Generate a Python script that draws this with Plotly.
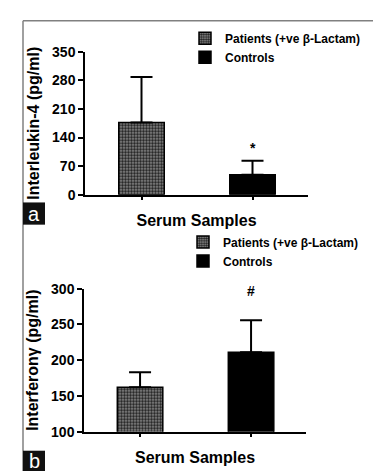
import plotly.graph_objects as go

# ---------------- data ----------------
groups = ["Patients (+ve β-Lactam)", "Controls"]
il4_mean = [177, 49]
il4_sd = [111, 34]
ifn_mean = [162, 211]
ifn_sd = [21, 45]
il4_ticks = [0, 70, 140, 210, 280, 350]
ifn_ticks = [100, 150, 200, 250, 300]
il4_marks = ["", "*"]
ifn_marks = ["", "#"]
panel_labels = ["a", "b"]
x_title = "Serum Samples"
il4_title = "Interleukin-4 (pg/ml)"
ifn_title = "Interferonγ (pg/ml)"

W, H = 381, 471
FONT = "Arial, Liberation Sans, sans-serif"


def px(x):
    return x / W


def py(y):
    return 1 - y / H


def fill(i):
    if i == 0:
        return dict(color="#707070", line=dict(color="black", width=1.5),
                    pattern=dict(shape=".", size=3, solidity=0.6,
                                 fgcolor="#202020", bgcolor="#949494", fillmode="replace"))
    return dict(color="black", line=dict(color="black", width=1.5))


fig = go.Figure()

for panel, (means, sds, xa, ya, leg, marks) in enumerate([
    (il4_mean, il4_sd, "x", "y", "legend", il4_marks),
    (ifn_mean, ifn_sd, "x2", "y2", "legend2", ifn_marks),
]):
    for i, g in enumerate(groups):
        fig.add_trace(go.Bar(
            x=[i], y=[means[i]], name=g, width=0.41,
            marker=fill(i),
            error_y=dict(type="data", array=[sds[i]], arrayminus=[0], symmetric=False,
                         color="black", thickness=2, width=11),
            xaxis=xa, yaxis=ya, legend=leg, showlegend=True,
        ))

axis_common = dict(showline=True, linecolor="black", linewidth=1.5, showgrid=False,
                   zeroline=False, ticks="outside", tickcolor="black", tickwidth=1.5)
tickfont = dict(family=FONT, size=14, color="black", weight="bold")
titlefont = dict(family=FONT, size=16, color="black", weight="bold")
ytitlefont = dict(family=FONT, size=16, color="black", weight="bold")
legfont = dict(family=FONT, size=12, color="black", weight="bold")

fig.update_layout(
    width=W, height=H, margin=dict(l=0, r=0, t=0, b=0),
    paper_bgcolor="white", plot_bgcolor="white", barmode="overlay",
    xaxis=dict(domain=[px(77), px(300)], range=[-0.509, 1.5], tickvals=[0, 1],
               showticklabels=False, ticklen=4, anchor="y",
               title=dict(text=x_title, font=titlefont, standoff=15), **axis_common),
    yaxis=dict(domain=[py(185), py(37)], range=[0, 350], tickvals=il4_ticks, ticklen=5,
               tickfont=tickfont, anchor="x",
               title=dict(text=il4_title, font=ytitlefont, standoff=8), **axis_common),
    xaxis2=dict(domain=[px(76), px(298)], range=[-0.505, 1.495], tickvals=[0, 1],
                showticklabels=False, ticklen=4, anchor="y2",
                title=dict(text=x_title, font=titlefont, standoff=15), **axis_common),
    yaxis2=dict(domain=[py(430.3), py(282.3)], range=[100, 300], tickvals=ifn_ticks, ticklen=5,
                tickfont=tickfont, anchor="x2",
                title=dict(text=ifn_title, font=ytitlefont, standoff=8), **axis_common),
    legend=dict(x=px(177), y=py(8), xanchor="left", yanchor="top",
                bgcolor="rgba(0,0,0,0)", tracegroupgap=0, font=legfont),
    legend2=dict(x=px(175), y=py(219), xanchor="left", yanchor="top",
                 bgcolor="rgba(0,0,0,0)", tracegroupgap=0, font=legfont),
)

# significance marks
for means, sds, xa, ya, marks, shift in [
    (il4_mean, il4_sd, "x", "y", il4_marks, 3),
    (ifn_mean, ifn_sd, "x2", "y2", ifn_marks, 19),
]:
    for i, m in enumerate(marks):
        if m:
            fig.add_annotation(x=i, y=means[i] + sds[i], xref=xa, yref=ya, text=m,
                               showarrow=False, yanchor="bottom", yshift=shift,
                               font=dict(family=FONT, size=14, color="black", weight="bold"))

# frame lines
fig.add_shape(type="line", xref="paper", yref="paper", x0=px(15), x1=1, y0=py(5), y1=py(5),
              line=dict(color="#808080", width=1.5))
fig.add_shape(type="line", xref="paper", yref="paper", x0=px(15), x1=px(15), y0=py(5), y1=0,
              line=dict(color="#808080", width=1.5))

# panel labels
for lab, (y0, y1) in zip(panel_labels, [(193, 216), (450, 471)]):
    fig.add_shape(type="rect", xref="paper", yref="paper", x0=px(15), x1=px(37),
                  y0=py(y1), y1=py(y0), fillcolor="#111111", line=dict(width=0))
    fig.add_annotation(x=px(26), y=py((y0 + y1) / 2), xref="paper", yref="paper", text=lab,
                       showarrow=False, xanchor="center", yanchor="middle",
                       font=dict(family=FONT, size=20, color="white"))

fig.write_html("out.html")
